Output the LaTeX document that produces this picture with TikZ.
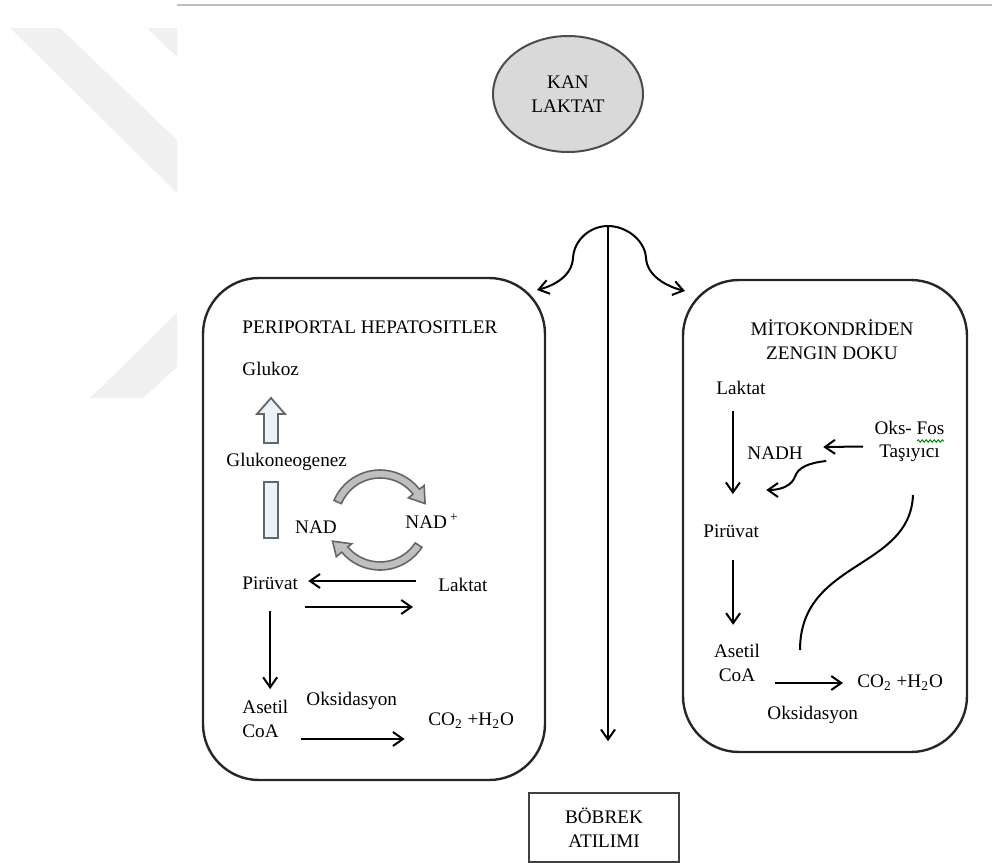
\documentclass[tikz,border=0pt]{standalone}
\usepackage{fontspec}
\setmainfont{Liberation Serif}
\usepackage{tikz}
\usetikzlibrary
  {
    arrows.meta,              % barb tips
    decorations.pathmorphing, % wavy spell-check line
    shapes.geometric,         % the blood ellipse
    calc,
  }
\definecolor{paleblue}{RGB}{236,242,249}

\begin{document}
\begin{tikzpicture}[x=.5pt,y=.5pt,inner sep=0,
    every node/.style={font=\fontsize{9.6}{11.8}\selectfont},
    arr/.style={line width=1pt,-{Straight Barb[length=5pt,width=7pt]}},
    cell/.style={draw=black!85,line width=1.2pt,rounded corners=28pt},
    hollow/.style={draw=black!60,fill=paleblue,line width=.9pt},
    nadarr/.style={draw=black!60,fill=black!25,line width=.8pt}]
    \useasboundingbox (0,0) rectangle (992,-863);
    % faint watermark and page rule
    \fill[black!6] (10,-28) -- (60,-28) -- (177,-140) -- (177,-193) -- cycle
                   (147,-28) -- (177,-28) -- (177,-57) -- cycle
                   (90,-398) -- (143,-398) -- (177,-367) -- (177,-313) -- cycle;
    \draw[black!25,line width=.8pt] (177,-5) -- (992,-5);

    \node (kan) [ellipse,draw=black!70,fill=black!15,line width=1pt,
                 minimum width=75pt,minimum height=58pt,align=center] at (568,-94) {KAN\\LAKTAT};
    \node (hep) [cell,minimum width=171pt,minimum height=251pt] at (374,-529) {};
    \node (mito) [cell,minimum width=142pt,minimum height=236pt] at (825,-516) {};
    \node (bob) [draw=black!75,line width=.8pt,minimum width=75pt,minimum height=34.5pt,
                 align=center] at (604,-827.5) {BÖBREK\\ATILIMI};

    % periportal hepatocytes
    \node (hept) [anchor=west] at (242,-327) {PERIPORTAL HEPATOSITLER};
    \node (glk)  [anchor=west] at (242,-369) {Glukoz};
    \node (gng)  [anchor=west] at (226,-462) {Glukoneogenez};
    \node (nad)  at (316,-527) {NAD};
    \node (nadp) [anchor=west] at (405,-521) {NAD\,\textsuperscript{+}};
    \node (pirL) [anchor=west] at (242,-583) {Pirüvat};
    \node (lakL) [anchor=west] at (438,-585) {Laktat};
    \node (aceL) [anchor=west,align=left] at (242,-719) {Asetil\\CoA};
    \node (oksL) [anchor=west] at (306,-701) {Oksidasyon};
    \node (co2L) [anchor=west] at (428,-721) {CO\textsubscript{2} +H\textsubscript{2}O};

    \draw[hollow] (264,-443) -- (264,-414) -- (257,-414) -- (271,-398) -- (285,-414)
                  -- (278,-414) -- (278,-443) -- cycle;
    \draw[hollow] (264,-482) rectangle (278,-538);

    \coordinate (cyc) at (380,-520);
    \begin{scope}[shift={(cyc)}]
      \draw[nadarr] (157:50) arc[start angle=157,end angle=38,radius=50] -- (38:56)
                    -- (20:48) -- (38:36) -- (38:42) arc[start angle=38,end angle=157,radius=42] -- cycle;
      \draw[nadarr] (-33:50) arc[start angle=-33,end angle=-140,radius=50] -- (-140:57)
                    -- (-156:52) -- (-140:37) -- (-140:42) arc[start angle=-140,end angle=-33,radius=42] -- cycle;
    \end{scope}

    \draw[arr] ($(lakL.west)+(-22,4)$) -- ($(pirL.east)+(10,2)$);
    \draw[arr] ($(pirL.east)+(7,-24)$) -- ($(lakL.west)+(-25,-22)$);
    \draw[arr] ($(pirL.south)+(0,-21)$) -- ($(aceL.north -| pirL.south)+(0,11)$);
    \draw[arr] ($(aceL.east)+(12,-20)$) -- ++(104,0);

    % mitochondria-rich tissue
    \node (mitot)  [align=center] at (832,-339.5) {MİTOKONDRİDEN\\ZENGIN DOKU};
    \node (lakR)   [anchor=west] at (716,-388) {Laktat};
    \node (nadh)   [anchor=west] at (747,-453) {NADH};
    \node (oksfos) [align=center] at (909.5,-441.5) {Oks- Fos\\Taşıyıcı};
    \node (pirR)   [anchor=west] at (703,-531) {Pirüvat};
    \node (aceR)   [align=center] at (737,-663) {Asetil\\CoA};
    \node (co2R)   [anchor=west] at (857,-683) {CO\textsubscript{2} +H\textsubscript{2}O};
    \node (oksR)   [anchor=west] at (767,-715) {Oksidasyon};

    \draw[green!55!black,line width=.5pt,decorate,
          decoration={snake,amplitude=.6pt,segment length=2pt}] (917,-441) -- (944,-441);

    \draw[arr] ($(lakR.south)+(-8,-16)$) -- ++(0,-83);
    \draw[arr] ($(oksfos.west)+(-11,-5)$) -- ($(nadh.east)+(20,6)$);
    \coordinate (nw) at ($(nadh.east)+(23,-8)$);
    \draw[arr] (nw) .. controls ($(nw)+(-19,-2)$) and ($(nw)+(-28,-7)$) .. ($(nw)+(-31,-15)$)
                    .. controls ($(nw)+(-34,-24)$) and ($(nw)+(-44,-29)$) .. ($(nw)+(-60,-29)$);
    \draw[arr] ($(pirR.south)+(2,-22)$) -- ++(0,-65);
    \draw[arr] ($(aceR.east)+(15,-20)$) -- ($(co2R.west)+(-14,0)$);
    \draw[line width=1pt] (913,-495) .. controls (910,-570) and (800,-560) .. (800,-650);

    % blood lactate splits three ways
    \coordinate (split) at (608,-226);
    \draw[arr] (split) -- ($(bob.north)+(4,51)$);
    \draw[arr] (split) .. controls (590,-226) and (574,-240) .. (573,-258)
                       .. controls (572,-275) and (556,-285) .. (537,-290);
    \draw[arr] (split) .. controls (626,-226) and (645,-240) .. (646,-258)
                       .. controls (647,-275) and (665,-286) .. (685,-291);
  \end{tikzpicture}
\end{document}
